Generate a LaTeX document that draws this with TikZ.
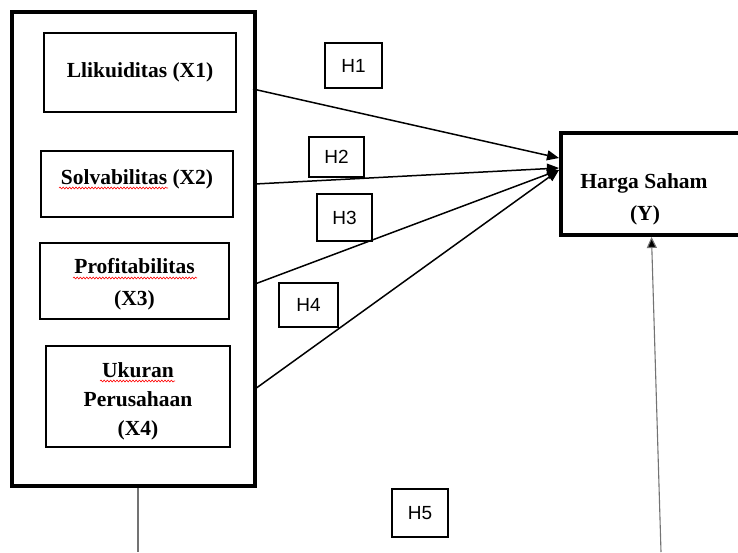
\documentclass[tikz,border=0pt]{standalone}
\usepackage{fontspec}
\setmainfont{Liberation Serif}
\newfontfamily\hfont{Liberation Sans}
\usetikzlibrary{arrows.meta,decorations.pathmorphing}
\tikzset{
  box/.style={draw,line width=1.5pt,inner sep=0pt},
  bigbox/.style={draw,line width=4pt,inner sep=0pt},
  hbox/.style={draw,line width=1.3pt,inner sep=0pt,font=\hfont\fontsize{19}{22}\selectfont},
  lbl/.style={anchor=base,inner sep=0pt,font=\bfseries\fontsize{21.5}{30}\selectfont},
  arr/.style={line width=1.5pt,-{Triangle[length=12pt,width=10pt]}},
  gline/.style={draw=black!55,line width=1.1pt},
  spell/.style={draw=red,line width=0.6pt,decorate,decoration={snake,amplitude=0.9pt,segment length=3.2pt}}
}
\begin{document}
\begin{tikzpicture}[x=1pt,y=-1pt]
\useasboundingbox (0,0) rectangle (738,552);
\clip (0,0) rectangle (738,552);
% outer and Y boxes
\node[bigbox,minimum width=243pt,minimum height=474pt] (outer) at (133.5,249) {};
\node[bigbox,minimum width=184pt,minimum height=102pt] (Y) at (653,184) {};
% inner boxes
\node[box,minimum width=192pt,minimum height=79pt] (x1) at (140,72.5) {};
\node[box,minimum width=192pt,minimum height=66pt] (x2) at (137,184) {};
\node[box,minimum width=189pt,minimum height=76pt] (x3) at (134.5,281) {};
\node[box,minimum width=184pt,minimum height=101pt] (x4) at (138,396.5) {};
% labels
\node[lbl] (l1) at (140,77) {Llikuiditas (X1)};
\node[lbl] (l2) at (137,184) {Solvabilitas (X2)};
\node[lbl] (l3a) at (134.5,273) {Profitabilitas};
\node[lbl] (l3b) at (134.5,305) {(X3)};
\node[lbl] (l4a) at (138,377) {Ukuran};
\node[lbl] (l4b) at (138,406) {Perusahaan};
\node[lbl] (l4c) at (138,435) {(X4)};
\node[lbl] (ly1) at (644,188) {Harga Saham};
\node[lbl] (ly2) at (645,220) {(Y)};
% spell-check marks
\draw[spell] (59,188) -- (168,188);
\draw[spell] (73,278) -- (197,278);
\draw[spell] (100,381) -- (175,381);
% hypothesis boxes
\node[hbox,minimum width=57pt,minimum height=45pt] (h1) at (353.5,65.5) {H1};
\node[hbox,minimum width=55pt,minimum height=40pt] (h2) at (336.5,157) {H2};
\node[hbox,minimum width=55pt,minimum height=47pt] (h3) at (344.5,217.5) {H3};
\node[hbox,minimum width=59pt,minimum height=44pt] (h4) at (308.5,305) {H4};
\node[hbox,minimum width=56pt,minimum height=48pt] (h5) at (420,513) {H5};
% connector coordinates
\coordinate (s1) at (253,89);
\coordinate (s2) at (255,184);
\coordinate (s3) at (255,284);
\coordinate (s4) at (255,389);
\coordinate (t1) at (559,158);
\coordinate (t2) at (559,168);
\coordinate (t3) at (559,170);
\coordinate (t4) at (559,170);
\draw[arr] (s1) -- (t1);
\draw[arr] (s2) -- (t2);
\draw[arr] (s3) -- (t3);
\draw[arr] (s4) -- (t4);
% gray lines
\coordinate (b1) at (138,552);
\draw[gline] (outer.south -| b1) -- (b1);
\coordinate (b2) at (661,552);
\coordinate (yt) at (651.5,237);
\draw[gline,-{Triangle[length=11pt,width=10pt,fill=black]}] (b2) -- (yt);
\end{tikzpicture}
\end{document}
